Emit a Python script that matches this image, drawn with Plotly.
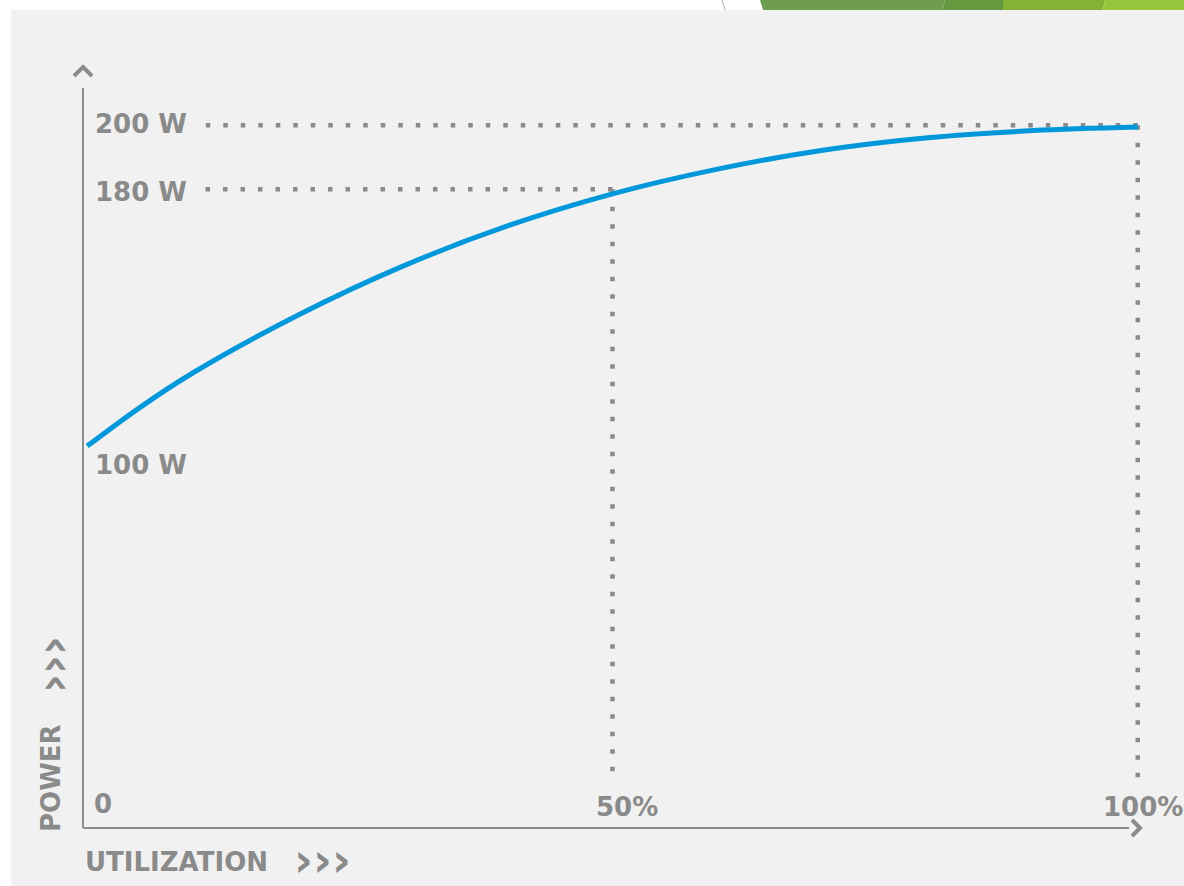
import plotly.graph_objects as go

# Power draw versus utilization
utilization = [0, 5, 10, 20, 30, 40, 50, 60, 70, 80, 90, 100]
power_w = [100, 112.0, 122.7, 140.7, 156.0, 168.6, 178.6, 186.3, 192.2, 196.1, 198.3, 199.4]

# Reference (guide) points marked with dotted lines
guide_util = [50, 100]
guide_power = [180, 200]

# Axis labels
power_ticks = [200, 180, 100]
power_tick_text = ["200 W", "180 W", "100 W"]
util_ticks = [0, 50, 100]
util_tick_text = ["0", "50%", "100%"]

W, H = 1184, 886
L, B = 83, 58
PW, PH = W - L, H - B

GREY = "#8a8a8a"
AXIS_GREY = "#8c8c8c"
BLUE = "#0098da"
FONT = dict(family="DejaVu Sans", size=26, color=GREY, weight=700)
CHEVRON_FONT = dict(family="DejaVu Sans", size=46, color=GREY, weight=700)

# layout helpers: page pixels -> paper coordinates
def px(x):
    return (x - L) / PW

def py(y):
    return (H - B - y) / PH

fig = go.Figure()

fig.add_trace(go.Scatter(
    x=utilization, y=power_w, mode="lines",
    line=dict(color=BLUE, width=5, shape="spline", smoothing=1.0),
    hoverinfo="skip", showlegend=False,
))

shapes = []
# light panel behind the chart
shapes.append(dict(type="rect", xref="paper", yref="paper",
                   x0=px(11), x1=px(W), y0=py(H), y1=py(10),
                   fillcolor="#f1f1f1", line=dict(width=0), layer="below"))
# decorative banner strip along the top edge
bands = [((760, 763), (945, 943), "#6e9d4e"),
         ((945, 943), (1003, 1003), "#66983f"),
         ((1003, 1003), (1105, 1103), "#84b334"),
         ((1105, 1103), (1184, 1184), "#97c63e")]
for (lt, lb), (rt, rb), col in bands:
    path = (f"M {px(lt)} {py(0)} L {px(rt)} {py(0)} "
            f"L {px(rb)} {py(10)} L {px(lb)} {py(10)} Z")
    shapes.append(dict(type="path", xref="paper", yref="paper", path=path,
                       fillcolor=col, line=dict(width=0), layer="below"))
shapes.append(dict(type="line", xref="paper", yref="paper",
                   x0=px(722), x1=px(725), y0=py(0), y1=py(10),
                   line=dict(color="#b5b5b5", width=1), layer="below"))

# dotted guides from each reference point to the axes
GUIDE_X_START = 11.0
GUIDE_Y_END = -3.5
dots = dict(color=GREY, width=4.5, dash="4.5px,13px")
for u, p in zip(guide_util, guide_power):
    shapes.append(dict(type="line", xref="x", yref="y", x0=u, y0=p,
                       x1=GUIDE_X_START, y1=p, line=dots, layer="below"))
    shapes.append(dict(type="line", xref="x", yref="y", x0=u, y0=p,
                       x1=u, y1=GUIDE_Y_END, line=dots, layer="below"))

# axis lines
shapes.append(dict(type="line", xref="paper", yref="paper",
                   x0=0, x1=0, y0=0, y1=py(88),
                   line=dict(color=AXIS_GREY, width=2)))
shapes.append(dict(type="line", xref="paper", yref="paper",
                   x0=0, x1=px(1129), y0=0, y1=0,
                   line=dict(color=AXIS_GREY, width=2)))
# arrow heads
shapes.append(dict(type="path", xref="paper", yref="paper",
                   xsizemode="pixel", ysizemode="pixel",
                   xanchor=0, yanchor=py(71),
                   path="M -9 -5 L 0 4 L 9 -5",
                   line=dict(color=GREY, width=4)))
shapes.append(dict(type="path", xref="paper", yref="paper",
                   xsizemode="pixel", ysizemode="pixel",
                   xanchor=px(1136), yanchor=0,
                   path="M -4 8 L 4 0 L -4 -8",
                   line=dict(color=GREY, width=4)))

annotations = []
shifts = {200: 1, 180: -3, 100: -19}
for v, t in zip(power_ticks, power_tick_text):
    annotations.append(dict(text=t, xref="paper", yref="y", x=px(93), y=v,
                            xanchor="left", yanchor="middle", yshift=shifts[v],
                            showarrow=False, font=FONT))
xshifts = {0: 5, 50: 15, 100: 5}
for v, t in zip(util_ticks, util_tick_text):
    annotations.append(dict(text=t, xref="x", yref="paper", x=v,
                            y=py(804 if v == 0 else 807),
                            xanchor="left" if v == 0 else "center",
                            yanchor="middle", xshift=xshifts[v],
                            showarrow=False, font=FONT))

annotations.append(dict(text="UTILIZATION", xref="paper", yref="paper",
                        x=px(83), y=py(862), xanchor="left", yanchor="middle",
                        showarrow=False, font=FONT))
annotations.append(dict(text="›››", xref="paper", yref="paper",
                        x=px(292), y=py(860), xanchor="left", yanchor="middle",
                        showarrow=False, font=CHEVRON_FONT))
annotations.append(dict(text="POWER", xref="paper", yref="paper",
                        x=px(51), y=py(778), xanchor="center", yanchor="middle",
                        textangle=-90, showarrow=False, font=FONT))
annotations.append(dict(text="›››", xref="paper", yref="paper",
                        x=px(53), y=py(665), xanchor="center", yanchor="middle",
                        textangle=-90, showarrow=False, font=CHEVRON_FONT))

fig.update_layout(
    width=W, height=H,
    margin=dict(l=L, r=0, t=0, b=B, pad=0),
    paper_bgcolor="white",
    plot_bgcolor="rgba(0,0,0,0)",
    xaxis=dict(range=[-0.4, 104.4], visible=False, fixedrange=True),
    yaxis=dict(range=[-19, 239], visible=False, fixedrange=True),
    shapes=shapes,
    annotations=annotations,
    showlegend=False,
)

fig.write_html("out.html", config={"displayModeBar": False})
